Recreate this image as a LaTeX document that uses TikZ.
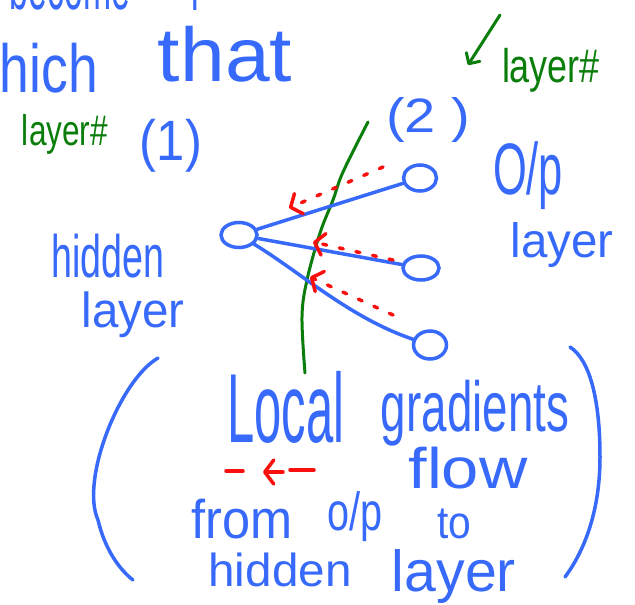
\documentclass[tikz,border=0pt]{standalone}
\usepackage{fontspec}
\usepackage{graphicx}
\setmainfont{Liberation Sans}
\usetikzlibrary{arrows.meta,shapes.geometric}
\definecolor{pen}{RGB}{55,105,250}
\definecolor{gpen}{RGB}{10,125,10}
\definecolor{rpen}{RGB}{250,15,15}
\newcommand{\hw}[3]{\resizebox*{#1}{#2}{#3}}
\begin{document}
\begin{tikzpicture}[x=1pt,y=-1pt,
  word/.style={inner sep=0pt,outer sep=0pt,text=pen,anchor=center},
  gword/.style={inner sep=0pt,outer sep=0pt,text=gpen,anchor=center},
  neuron/.style={ellipse,draw=pen,line width=3.5pt,inner sep=0pt},
  link/.style={draw=pen,line width=3.5pt,line cap=round},
  gline/.style={draw=gpen,line width=3pt,line cap=round},
  pline/.style={draw=pen,line width=3.5pt,line cap=round},
  grad/.style={draw=rpen,line width=3.5pt,line cap=round,dash pattern=on 4pt off 13pt,
    -{Straight Barb[length=9pt,width=22pt,line width=3.5pt,round]}},
  rline/.style={draw=rpen,line width=3.5pt,line cap=round}]
\useasboundingbox (0,0) rectangle (635,605);
\clip (0,0) rectangle (635,605);

% partial top line
\node[word] (topw) at (70,-15) {\hw{120pt}{50pt}{become}};
\node[word] (topf) at (195,-12) {\hw{10pt}{44pt}{f}};

% hich that
\node[word] (hich) at (49,68) {\hw{98pt}{50pt}{hich}};
\node[word] (that) at (225,54) {\hw{134pt}{56pt}{that}};

% green labels
\coordinate (ga1) at (500,15);
\coordinate (ga2) at (468,65);
\draw[gline,-{Straight Barb[length=8pt,width=16pt,line width=3pt,round]}] (ga1) -- (ga2);
\node[gword] (lnum2) at (551,70) {\hw{98pt}{44pt}{layer\#}};
\node[gword] (lnum1) at (65,134) {\hw{86pt}{40pt}{layer\#}};

% layer numbers
\node[word] (one) at (171,146) {\hw{62pt}{53pt}{(1)}};
\node[word] (two) at (428,120) {\hw{84pt}{45pt}{(2 )}};

% side labels
\node[word] (op) at (528,176) {\hw{70pt}{68pt}{O/p}};
\node[word] (opl) at (562,245) {\hw{103pt}{45pt}{layer}};
\node[word] (hid) at (108,256) {\hw{113pt}{44pt}{hidden}};
\node[word] (hidl) at (133,315) {\hw{103pt}{46pt}{layer}};

% green layer boundary
\draw[gline] plot[smooth,tension=0.6] coordinates {(368,122) (343,172) (333,200) (320,233) (307,280) (302,317) (305,373)};

% neurons
\node[neuron,minimum width=36pt,minimum height=25pt] (h) at (239,235) {};
\node[neuron,minimum width=33pt,minimum height=26pt] (o1) at (420,178) {};
\node[neuron,minimum width=36pt,minimum height=24pt] (o2) at (421,268) {};
\node[neuron,minimum width=33pt,minimum height=28pt] (o3) at (430,345) {};

\draw[link] (h) -- (o1);
\draw[link] (h) -- (o2);
\draw[link] (h) .. controls (300,272) and (350,318) .. (o3);

% red back-propagation arrows
\coordinate (r1s) at (383,167);
\coordinate (r1e) at (289,208);
\coordinate (r2s) at (393,260);
\coordinate (r2e) at (313,242);
\coordinate (r3s) at (393,315);
\coordinate (r3e) at (310,277);
\draw[grad] (r1s) -- (r1e);
\draw[grad] (r2s) -- (r2e);
\draw[grad] (r3s) -- (r3e);

% parentheses
\draw[pline] (158,358) .. controls (120,380) and (80,480) .. (98,520) .. controls (105,550) and (120,570) .. (133,580);
\draw[pline] (570,347) .. controls (590,360) and (600,400) .. (600,457) .. controls (600,510) and (585,550) .. (565,577);

% bracketed text
\node[word] (local) at (286,407) {\hw{117pt}{72pt}{Local}};
\node[word] (gradients) at (475,413) {\hw{188pt}{66pt}{gradients}};
\coordinate (d1a) at (226,471);
\coordinate (d1b) at (243,471);
\coordinate (d2a) at (283,472);
\coordinate (d2b) at (263,472);
\coordinate (d3a) at (290,470);
\coordinate (d3b) at (314,470);
\draw[rline] (d1a) -- (d1b);
\draw[rline,-{Straight Barb[length=9pt,width=24pt,line width=3.5pt,round]}] (d2a) -- (d2b);
\draw[rline] (d3a) -- (d3b);
\node[word] (flow) at (468,468) {\hw{119pt}{42pt}{flow}};
\node[word] (from) at (242,519) {\hw{101pt}{40pt}{from}};
\node[word] (op2) at (355,517) {\hw{55pt}{50pt}{o/p}};
\node[word] (to) at (454,524) {\hw{34pt}{30pt}{to}};
\node[word] (hid2) at (280,570) {\hw{143pt}{34pt}{hidden}};
\node[word] (lay2) at (454,577) {\hw{124pt}{54pt}{layer}};
\end{tikzpicture}
\end{document}
